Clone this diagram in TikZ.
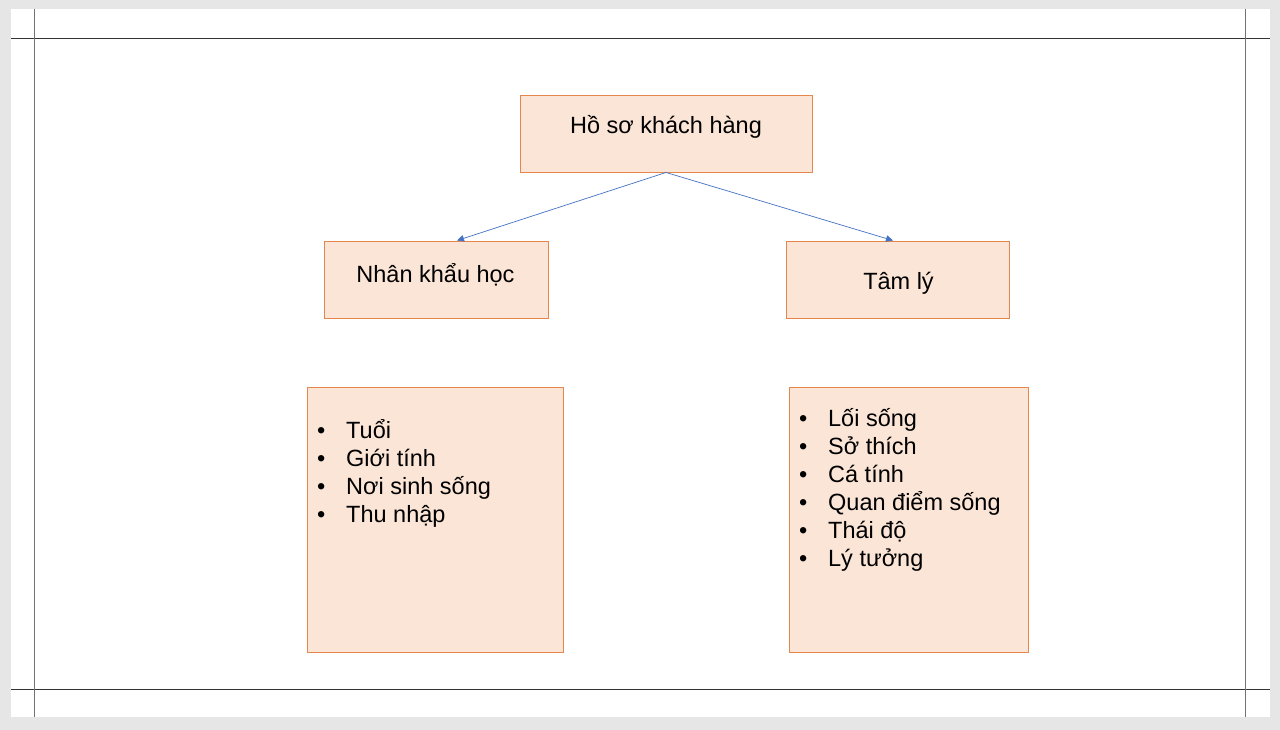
\documentclass[tikz,border=0pt]{standalone}
\usepackage{fontspec}
\setmainfont{Liberation Sans}
\usepackage{tikz}
\usetikzlibrary{arrows.meta}
\definecolor{boxfill}{HTML}{FBE5D6}
\definecolor{boxline}{HTML}{E5864D}
\definecolor{arrline}{HTML}{4472C4}
\definecolor{pagegray}{HTML}{E6E6E6}

\begin{document}
\begin{tikzpicture}[x=1pt,y=-1pt,
  box/.style={draw=boxline,fill=boxfill,line width=0.95pt,inner sep=0pt},
  title/.style={inner sep=0pt,anchor=base,font=\fontsize{23.5}{28}\selectfont},
  item/.style={inner sep=0pt,anchor=base west,font=\fontsize{23.5}{28}\selectfont},
  arr/.style={draw=arrline,line width=0.7pt,-{Triangle[width=6.5pt,length=7pt]}},
  guide/.style={line width=0.9pt}]
% page and guides
\fill[pagegray] (0,0) rectangle (1280,730);
\fill[white] (11,9) rectangle (1270,717);
\draw[guide,black!80] (11,38) -- (1270,38);
\draw[guide,black!80] (11,689) -- (1270,689);
\draw[guide,black!55] (34,9) -- (34,717);
\draw[guide,black!55] (1245,9) -- (1245,717);
\useasboundingbox (0,0) rectangle (1280,730);
% boxes
\node[box,minimum width=292pt,minimum height=77pt] (hoso) at (666,133.5) {};
\node[box,minimum width=224pt,minimum height=77pt] (nhankhau) at (436,279.5) {};
\node[box,minimum width=223pt,minimum height=77pt] (tamly) at (897.5,279.5) {};
\node[box,minimum width=256pt,minimum height=265pt] (nhanlist) at (435,519.5) {};
\node[box,minimum width=239pt,minimum height=265pt] (tamlist) at (908.5,519.5) {};
% titles
\node[title] (hosotext) at (666,133.5) {Hồ sơ khách hàng};
\node[title] (nhankhautext) at (435.5,282.5) {Nhân khẩu học};
\node[title] (tamlytext) at (898.5,290) {Tâm lý};
% arrows
\draw[arr] (hoso.south) -- ([xshift=21pt]nhankhau.north);
\draw[arr] (hoso.south) -- ([xshift=-4.5pt]tamly.north);
% lists
\foreach \t [count=\i] in {Tuổi,Giới tính,Nơi sinh sống,Thu nhập}
  \node[item] (nl\i) at (317,438.5+28*\i-28) {\makebox[29pt][l]{•}\t};
\foreach \t [count=\i] in {Lối sống,Sở thích,Cá tính,Quan điểm sống,Thái độ,Lý tưởng}
  \node[item] (tl\i) at (799,426.5+28*\i-28) {\makebox[29pt][l]{•}\t};
\end{tikzpicture}
\end{document}
